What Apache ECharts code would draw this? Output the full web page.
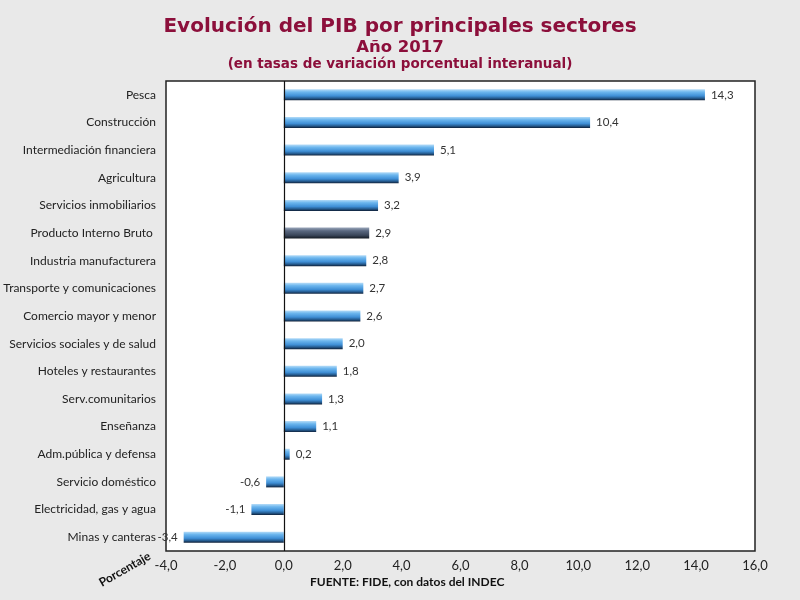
<!DOCTYPE html>
<html><head><meta charset="utf-8">
<script src="https://cdn.jsdelivr.net/npm/echarts@6/dist/echarts.min.js"></script>
<style>html,body{margin:0;padding:0;background:#e9e9e9;}#c{width:800px;height:600px;}</style>
</head><body><div id="c"></div>
<script>
const categories = ["Pesca","Construcción","Intermediación financiera","Agricultura","Servicios inmobiliarios","Producto Interno Bruto ","Industria manufacturera","Transporte y comunicaciones","Comercio mayor y menor","Servicios sociales y de salud","Hoteles y restaurantes","Serv.comunitarios","Enseñanza","Adm.pública y defensa","Servicio doméstico","Electricidad, gas y agua","Minas y canteras"];
const values = [14.3,10.4,5.1,3.9,3.2,2.9,2.8,2.7,2.6,2.0,1.8,1.3,1.1,0.2,-0.6,-1.1,-3.4];
const highlight = "Producto Interno Bruto ";
const xTicks = {min:-4, max:16, interval:2};

const narrow = 'Lato,"Liberation Sans",Arial,sans-serif';
const heavy = '"DejaVu Sans",Verdana,sans-serif';
const fmt = v => v.toFixed(1).replace('.', ',');
const blueGrad = new echarts.graphic.LinearGradient(0,0,0,1,[
  {offset:0,color:'#b5dcf8'},{offset:0.25,color:'#6cb6ee'},{offset:0.6,color:'#3f8fd6'},{offset:0.82,color:'#245a8e'},{offset:1,color:'#0f2038'}]);
const darkGrad = new echarts.graphic.LinearGradient(0,0,0,1,[
  {offset:0,color:'#9aa6ba'},{offset:0.3,color:'#5a6880'},{offset:0.7,color:'#3a465a'},{offset:1,color:'#121820'}]);

const chart = echarts.init(document.getElementById('c'));
chart.setOption({
  backgroundColor:'#e9e9e9',
  animation:false,
  title:[
    {text:'Evolución del PIB por principales sectores',left:'center',top:12,textStyle:{fontFamily:heavy,fontWeight:'bold',fontSize:20,color:'#8c0f3b'}},
    {text:'Año 2017',left:'center',top:34,textStyle:{fontFamily:heavy,fontWeight:'bold',fontSize:16.5,color:'#8c0f3b'}},
    {text:'(en tasas de variación porcentual interanual)',left:'center',top:52,textStyle:{fontFamily:heavy,fontWeight:'bold',fontSize:13.5,color:'#8c0f3b'}}
  ],
  grid:{left:166,top:81,right:45,bottom:49,outerBoundsMode:'none',containLabel:false,show:true,backgroundColor:'#ffffff',borderColor:'#222',borderWidth:1.5},
  xAxis:{type:'value',min:xTicks.min,max:xTicks.max,interval:xTicks.interval,
    axisLine:{show:false},axisTick:{show:false},splitLine:{show:false},
    axisLabel:{formatter:v=>fmt(v),fontFamily:narrow,fontSize:13,color:'#222',margin:8}},
  yAxis:{type:'category',data:categories,inverse:true,
    axisLine:{show:false},axisTick:{show:false},
    axisLabel:{fontFamily:narrow,fontSize:12,color:'#222',margin:10}},
  series:[{
    type:'bar',barWidth:11,
    data:values.map((v,i)=>({value:v,
      itemStyle:{color:categories[i]===highlight?darkGrad:blueGrad},
      label:{position:v<0?'left':'right'}})),
    label:{show:true,formatter:p=>fmt(p.value),fontFamily:narrow,fontSize:11.5,color:'#333',distance:6},
    markLine:{silent:true,symbol:'none',label:{show:false},lineStyle:{color:'#111',type:'solid',width:1.2},data:[{xAxis:0}]}
  }],
  graphic:[
    {type:'text',left:97,top:550,rotation:0.52,style:{text:'Porcentaje',font:'bold 12px Lato,"Liberation Sans",Arial',fill:'#111'}},
    {type:'text',left:310,top:576,style:{text:'FUENTE: FIDE, con datos del INDEC',font:'bold 12px '+narrow,fill:'#111'}}
  ]
});
</script></body></html>
